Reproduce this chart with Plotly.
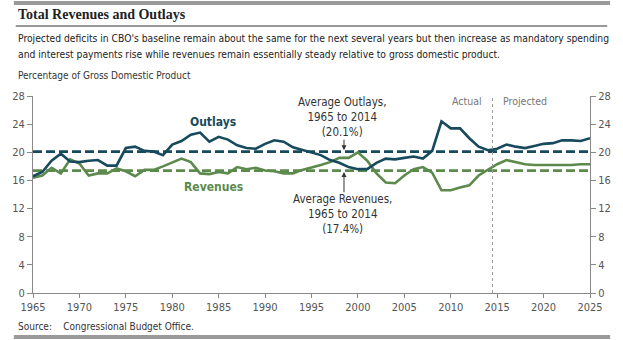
import plotly.graph_objects as go

years = list(range(1965, 2026))
outlays = [16.6, 17.2, 18.8, 19.8, 18.7, 18.6, 18.8, 18.9, 18.1, 18.1,
           20.6, 20.8, 20.2, 20.1, 19.6, 21.1, 21.6, 22.5, 22.8, 21.5,
           22.2, 21.8, 21.0, 20.6, 20.5, 21.2, 21.7, 21.5, 20.7, 20.3,
           20.0, 19.6, 18.9, 18.5, 17.9, 17.6, 17.6, 18.5, 19.1, 19.0,
           19.2, 19.4, 19.1, 20.2, 24.4, 23.4, 23.4, 22.0, 20.8, 20.3,
           20.5, 21.1, 20.8, 20.6, 20.9, 21.2, 21.3, 21.7, 21.7, 21.6, 22.0]
revenues = [16.4, 16.7, 17.8, 17.0, 19.0, 18.4, 16.7, 17.0, 17.0, 17.7,
            17.3, 16.6, 17.5, 17.5, 18.0, 18.5, 19.1, 18.6, 17.0, 16.9,
            17.2, 17.0, 17.9, 17.6, 17.8, 17.4, 17.3, 17.0, 17.0, 17.5,
            17.8, 18.2, 18.6, 19.2, 19.2, 20.0, 18.8, 17.0, 15.7, 15.6,
            16.7, 17.6, 17.9, 17.1, 14.6, 14.6, 15.0, 15.3, 16.7, 17.5,
            18.3, 18.9, 18.6, 18.3, 18.2, 18.2, 18.1, 18.2, 18.2, 18.3, 18.3]
avg_outlays = 20.1
avg_revenues = 17.4
y_ticks = [0, 4, 8, 12, 16, 20, 24, 28]
x_ticks = list(range(1965, 2026, 5))
split_year = 2014.5

TEAL = "#174a5c"
GREEN = "#5b8a4c"
GRAY_TXT = "#555555"
FONT = "DejaVu Sans Condensed, Arial Narrow, sans-serif"

W, H = 623, 340
L, R, T, B = 20, 21, 96, 47
PW, PH = W - L - R, H - T - B


def px(xp):
    return (xp - L) / PW


def py(yp):
    return (H - B - yp) / PH


fig = go.Figure()
fig.add_trace(go.Scatter(x=[years[0], years[-1]], y=[avg_outlays, avg_outlays], mode="lines",
                         line=dict(color=TEAL, width=2.6, dash="9px,4px"), hoverinfo="skip"))
fig.add_trace(go.Scatter(x=[years[0], years[-1]], y=[avg_revenues, avg_revenues], mode="lines",
                         line=dict(color=GREEN, width=2.6, dash="9px,4px"), hoverinfo="skip"))
fig.add_trace(go.Scatter(x=years, y=revenues, mode="lines", line=dict(color=GREEN, width=2.6)))
fig.add_trace(go.Scatter(x=years, y=outlays, mode="lines", line=dict(color=TEAL, width=2.6)))
fig.add_trace(go.Scatter(x=[years[0]], y=[0], mode="lines", yaxis="y2", opacity=0,
                         hoverinfo="skip"))

axis_common = dict(range=[0, 28], tickvals=y_ticks, ticks="outside", ticklen=5,
                   tickcolor="#888", showline=True, linecolor="#888", linewidth=1,
                   showgrid=False, zeroline=False,
                   tickfont=dict(family=FONT, size=11, color=GRAY_TXT))

fig.update_layout(
    width=W, height=H, margin=dict(l=L, r=R, t=T, b=B),
    paper_bgcolor="white", plot_bgcolor="white", showlegend=False,
    xaxis=dict(range=[1965, 2025], tickvals=x_ticks, ticks="outside", ticklen=4,
               tickcolor="#888", showline=True, linecolor="#888", linewidth=1,
               showgrid=False, zeroline=False,
               tickfont=dict(family=FONT, size=11, color=GRAY_TXT)),
    yaxis=dict(side="left", **axis_common),
    yaxis2=dict(side="right", overlaying="y", **axis_common),
)

shapes = [
    dict(type="rect", xref="paper", yref="paper", x0=px(0), x1=px(W), y0=py(5), y1=py(1),
         fillcolor="#9a9a9a", line=dict(width=0)),
    dict(type="rect", xref="paper", yref="paper", x0=px(0), x1=px(W), y0=py(339), y1=py(335),
         fillcolor="#9a9a9a", line=dict(width=0)),
    dict(type="line", xref="paper", yref="paper", x0=px(2), x1=px(620), y0=py(26), y1=py(26),
         line=dict(color="#333", width=1)),
    dict(type="line", xref="x", yref="paper", x0=split_year, x1=split_year, y0=0, y1=1,
         line=dict(color="#999", width=1, dash="dot")),
]
fig.update_layout(shapes=shapes)

ann = []


def text(x, y, s, size, color=GRAY_TXT, family=FONT, xanchor="left", xref="paper", yref="paper", align="left"):
    ann.append(dict(x=x, y=y, xref=xref, yref=yref, text=s, showarrow=False, xanchor=xanchor,
                    yanchor="middle", align=align, font=dict(family=family, size=size, color=color)))


text(px(2), py(14), "<b>Total Revenues and Outlays</b>", 14, color="#222",
     family="Liberation Serif, Times New Roman, serif")
text(px(2), py(38), "Projected deficits in CBO's baseline remain about the same for the next several years but then increase as mandatory spending", 10.25, color="#222")
text(px(2), py(54), "and interest payments rise while revenues remain essentially steady relative to gross domestic product.", 10.25, color="#222")
text(px(2), py(75), "Percentage of Gross Domestic Product", 10, color="#333")
text(px(2), py(326), "Source:&nbsp;&nbsp;&nbsp;&nbsp;Congressional Budget Office.", 10, color="#333")
text(1984.4, 24.3, "<b>Outlays</b>", 12, color=TEAL, xanchor="center", xref="x", yref="y")
text(1984.4, 15.0, "<b>Revenues</b>", 12, color=GREEN, xanchor="center", xref="x", yref="y")
text(split_year - 0.9, py(101), "Actual", 10.5, color="#777", xanchor="right", yref="paper", xref="x")
text(split_year + 0.9, py(101), "Projected", 10.5, color="#777", xanchor="left", yref="paper", xref="x")
text(1998.3, 25.0, "Average Outlays,<br>1965 to 2014<br>(20.1%)", 11.5, color="#333",
     xanchor="center", xref="x", yref="y", align="center")
text(1998.3, 11.3, "Average Revenues,<br>1965 to 2014<br>(17.4%)", 11.5, color="#333",
     xanchor="center", xref="x", yref="y", align="center")

ann.append(dict(x=1998.5, y=avg_outlays + 0.2, xref="x", yref="y", ax=1998.5, ay=22.0,
                axref="x", ayref="y", showarrow=True, arrowhead=2, arrowsize=1, arrowwidth=1,
                arrowcolor="#333", text=""))
ann.append(dict(x=1998.5, y=avg_revenues - 0.2, xref="x", yref="y", ax=1998.5, ay=14.1,
                axref="x", ayref="y", showarrow=True, arrowhead=2, arrowsize=1, arrowwidth=1,
                arrowcolor="#333", text=""))
fig.update_layout(annotations=ann)

fig.write_html("out.html")
